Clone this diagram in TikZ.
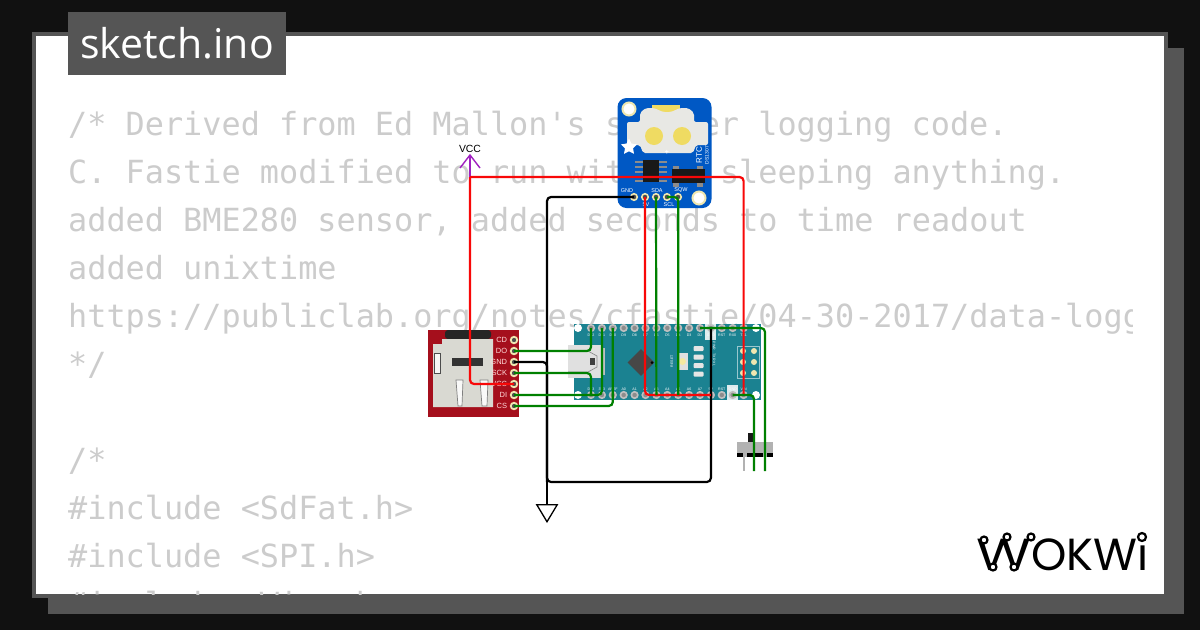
\documentclass[tikz,border=0pt]{standalone}
\usepackage{fontspec}
\setmainfont{Liberation Sans}
\setmonofont{DejaVu Sans Mono}
\newfontfamily\titlefont{Open Sans}
\newfontfamily\logofont{Poppins}
\usetikzlibrary{positioning,shapes.geometric}
\definecolor{pagebg}{HTML}{111111}
\definecolor{framegray}{HTML}{555555}
\definecolor{codegray}{HTML}{CCCCCC}
\definecolor{sdred}{HTML}{A50F1C}
\definecolor{sdgray}{HTML}{D9D9D2}
\definecolor{nanoteal}{HTML}{1B8291}
\definecolor{rtcblue}{HTML}{0058C4}
\definecolor{padcream}{HTML}{EFE7B0}
\definecolor{battyellow}{HTML}{EFDB62}
\definecolor{wiregreen}{HTML}{008000}
\definecolor{wirered}{HTML}{F80808}
\definecolor{vccpurple}{HTML}{A020C0}
\tikzset{
  codeline/.style={anchor=base west, inner sep=0pt, text=codegray, font=\ttfamily\fontsize{31.85}{32}\selectfont},
  wire/.style={line width=2.2pt, rounded corners=4pt},
  greenwire/.style={wire, draw=wiregreen},
  redwire/.style={wire, draw=wirered},
  blackwire/.style={wire, draw=black},
  sdpin/.style={circle, draw=padcream, fill=black!70, line width=1.8pt, minimum size=6.5pt, inner sep=0pt},
  sdlabel/.style={inner sep=0pt, text=red!15!white, font=\fontsize{7.5}{7.5}\selectfont},
  rtcpin/.style={circle, draw=padcream, fill=black!70, line width=1.6pt, minimum size=6.5pt, inner sep=0pt},
  rtclabel/.style={inner sep=0pt, text=white, font=\fontsize{5.5}{5.5}\selectfont},
  nanopin/.style={circle, draw=black!25, fill=black!45, line width=1.6pt, minimum size=6.5pt, inner sep=0pt},
  nanolabel/.style={inner sep=0pt, text=white, font=\fontsize{3.6}{3.6}\selectfont},
  nanoled/.style={fill=white!90!black, rounded corners=1pt},
  swleg/.style={line width=1.9pt, draw=black!30}
}
\begin{document}
\begin{tikzpicture}[x=1pt,y=-1pt]
  \useasboundingbox (0,0) rectangle (1200,630);
  % Draw frame
  \fill[pagebg] (0,0) rectangle (1200,630);
  \fill[framegray] (48,48) rectangle (1184,614);
  \draw[framegray, fill=white, line width=4pt] (34,34) rectangle (1166,596);
  % Draw code text
  \begin{scope}
    \clip (36,36) rectangle (1132,594);
    \node[codeline] (code1) at (68,135) {/* Derived from Ed Mallon's s};
    \node[codeline] (code1b) at (700.6,135) {er logging code.};
    \node[codeline] (code2) at (68,183) {C. Fastie modified to run with};
    \node[codeline] (code2b) at (719.8,183) {sleeping anything.};
    \node[codeline] (code3) at (68,231) {added BME280 sensor, added seconds to time readout};
    \node[codeline] (code4) at (68,279) {added unixtime};
    \node[codeline] (code5) at (68,327) {https://publiclab.org/notes/cfastie/04-30-2017/data-logger};
    \node[codeline] (code6) at (68,375) {*/};
    \node[codeline] (code7) at (68,471) {/*};
    \node[codeline] (code8) at (68,519) {\#include <SdFat.h>};
    \node[codeline] (code9) at (68,567) {\#include <SPI.h>};
    \node[codeline] (code10) at (68,615) {\#include <Wire.h>};
  \end{scope}
  % Draw title tab
  \fill[framegray] (68,12) rectangle (286,75);
  \node[inner sep=0pt, text=white, font=\titlefont\fontsize{41}{41}\selectfont] (title) at (177,43) {sketch.ino};
  % Draw logo
  \node[inner sep=0pt, anchor=base east, font=\logofont\fontsize{45}{45}\selectfont] (logo) at (1149,570) {\scalebox{1.25}[1]{W}OKWi};
  \foreach \xx/\yy [count=\k] in {984/540,1007/537,1031/537,993/567,1014/567}{
    \node[circle, draw=black, fill=white, line width=2.2pt, minimum size=7pt, inner sep=0pt] (logodot\k) at (\xx,\yy) {};
  }
  \node[circle, draw=black, fill=white, line width=2.2pt, minimum size=8pt, inner sep=0pt] (logodot6) at (1142,537) {};

  % Draw SD card
  \fill[sdred] (427.5,330) rectangle (519,417);
  \fill[black!85, rounded corners=3pt] (445,330) rectangle (491,339);
  \fill[sdgray] (433,344) -- (442,344) -- (442,339) -- (493,339) -- (493,407) -- (433,407) -- cycle;
  \fill[black!80] (452,358) rectangle (483,366);
  \draw[black!70, line width=1pt, fill=white!80!sdgray] (434,353) rectangle (440,373);
  \draw[black!50, line width=.7pt, fill=white!85!sdgray] (456,380) -- (463,380) -- (462,406) -- (458,406) -- cycle;
  \draw[black!50, line width=.7pt, fill=white!85!sdgray] (480,380) -- (488,380) -- (487,406) -- (482,406) -- cycle;
  \foreach \lab/\yy in {CD/340,DO/351,GND/362,SCK/373,VCC/384,DI/395,CS/406}{
    \node[sdpin] (sd\lab) at (514,\yy) {};
    \node[sdlabel, left=2.5pt of sd\lab] (sdtxt\lab) {\lab};
  }

  % Draw Nano
  \fill[nanoteal] (574,324) rectangle (761,400);
  \foreach \xx/\yy [count=\k] in {578/328,578/395,756/328,756/395}{
    \node[circle, fill=white, minimum size=8pt, inner sep=0pt] (nanohole\k) at (\xx,\yy) {};
  }
  \fill[white!85!nanoteal] (705,324) rectangle (716,340);
  \fill[white!85!nanoteal] (727,385) rectangle (738,400);
  \foreach \lab [count=\k from 0] in {D12,D11,D10,D9,D8,D7,D6,D5,D4,D3,D2,GND,RST,RX0,TX1}{
    \node[nanopin] (nt\k) at ({591+10.9*\k},328) {};
    \node[nanolabel] (nttxt\k) at ({591+10.9*\k},335.5) {\lab};
  }
  \foreach \lab [count=\k from 0] in {D13,3V3,AREF,A0,A1,A2,A3,A4,A5,A6,A7,5V,RST,GND,VIN}{
    \node[nanopin] (nb\k) at ({591+10.9*\k},395) {};
    \node[nanolabel] (nbtxt\k) at ({591+10.9*\k},389) {\lab};
  }
  % USB socket
  \fill[black!12] (568,345) rectangle (601,378);
  \fill[black!25] (601,348) rectangle (605,375);
  \draw[black!45, line width=.7pt] (568,351) -- (588,351) -- (597,356) -- (597,367) -- (588,372) -- (568,372);
  \fill[black!75] (590,358) rectangle (595,365);
  % Chip and reset
  \node[diamond, fill=black!72, minimum size=27pt, inner sep=0pt] (chip) at (641,362.5) {};
  \node[circle, fill=black, minimum size=3pt, inner sep=0pt] (chipdot) at (652,362.5) {};
  \fill[white!88!black] (677,353) rectangle (688,370);
  \node[circle, fill=battyellow!60!white, minimum size=7pt, inner sep=0pt] (resetbtn) at (682.5,361.5) {};
  \node[nanolabel, rotate=90] (resettxt) at (672,361) {RESET};
  \foreach \yy [count=\k] in {348.5,357,365.5,374}{
    \node[nanoled, minimum width=10pt, minimum height=5pt, inner sep=0pt] (led\k) at (698.5,\yy) {};
  }
  \node[nanolabel, rotate=-90] (ledtxt) at (714,360) {TX RX L};
  \node[nanolabel, rotate=-90] (pwrtxt) at (714,346) {PWR};
  % ICSP header
  \draw[white!55!nanoteal, line width=.8pt] (737,346) rectangle (759,378);
  \foreach \yy [count=\k] in {351,362,373}{
    \node[circle, fill=padcream, minimum size=6pt, inner sep=0pt] (icspa\k) at (743,\yy) {};
    \node[circle, fill=padcream, minimum size=6pt, inner sep=0pt] (icspb\k) at (754,\yy) {};
  }

  % Draw RTC
  \fill[rtcblue, rounded corners=9pt] (617.5,98) rectangle (711.5,208);
  \fill[battyellow] (652,105) rectangle (680,112);
  \fill[sdgray!60!white, rounded corners=2pt] (640,122) -- (640,113) to[out=45,in=180] (650,108) to[out=0,in=180] (667,112) to[out=0,in=180] (684,108) to[out=0,in=135] (694,113) -- (694,122) -- (708,122) -- (708,145) -- (696,145) -- (693,153) -- (643,153) -- (640,145) -- (627,145) -- (627,122) -- cycle;
  \node[circle, fill=battyellow, minimum size=18pt, inner sep=0pt] (battl) at (654,136) {};
  \node[circle, fill=battyellow, minimum size=18pt, inner sep=0pt] (battr) at (682,136) {};
  \node[star, star points=5, star point ratio=2, fill=white, minimum size=17pt, inner sep=0pt] (logostar) at (629,147) {};
  \node[inner sep=0pt, text=white, font=\bfseries\fontsize{7}{7}\selectfont] (plusmark) at (667,152) {+};
  \node[circle, draw=padcream, fill=white, line width=2pt, minimum size=13pt, inner sep=0pt] (rtcholea) at (629,109) {};
  \node[circle, draw=padcream, fill=white, line width=2pt, minimum size=13pt, inner sep=0pt] (rtcholeb) at (699,198) {};
  \foreach \yy in {162,167,172,177,181}{
    \fill[black!45] (635,\yy-1.2) rectangle (667,\yy+1.2);
  }
  \fill[black!90] (643,160) rectangle (659,182);
  \foreach \xx in {676,700}{
    \fill[black!45] (\xx-3,166) rectangle (\xx+3,187);
  }
  \fill[black!90] (672,169) rectangle (705,183);
  \node[inner sep=0pt, rotate=90, text=white, font=\fontsize{8}{8}\selectfont] (rtctxt) at (699,155) {RTC};
  \node[inner sep=0pt, rotate=90, text=white, font=\fontsize{5}{5}\selectfont] (dstxt) at (707,155) {DS1307};
  \foreach \lab/\xx in {GND/634,5V/645,SDA/656,SCL/667,SQW/678}{
    \node[rtcpin] (rtc\lab) at (\xx,197) {};
  }
  \node[rtclabel] (rtctxtgnd) at (627,191) {GND};
  \node[rtclabel] (rtctxtsda) at (657,191) {SDA};
  \node[rtclabel] (rtctxtsqw) at (681,190) {SQW};
  \node[rtclabel] (rtctxtfive) at (646,205) {5V};
  \node[rtclabel] (rtctxtscl) at (669,205) {SCL};

  % Draw slide switch
  \fill[black!90] (748,433) rectangle (753,442);
  \fill[black!30] (737,442) rectangle (772.5,453);
  \fill[black] (737,453) rectangle (772.5,456.5);
  \fill[black!30] (743,453) rectangle (747,456.5);
  \fill[black!30] (763,453) rectangle (767,456.5);
  \coordinate (swa) at (744,471);
  \coordinate (swb) at (754,471);
  \coordinate (swc) at (765,471);
  \draw[swleg] (744,456) -- (swa);

  % Draw VCC and ground symbols
  \node[inner sep=0pt, font=\fontsize{10.4}{10.4}\selectfont] (vcctxt) at (470,149) {VCC};
  \coordinate (vcctip) at (470,155);
  \coordinate (vccjoin) at (470,177);
  \draw[vccpurple, line width=1.4pt] (460,168) -- (vcctip) -- (480,168);
  \draw[vccpurple, line width=1.4pt] (vcctip) -- (vccjoin);
  \coordinate (gndjoin) at (547,482);
  \node[isosceles triangle, isosceles triangle apex angle=62, shape border rotate=-90, draw=black, fill=white, line width=1.3pt, minimum height=17pt, inner sep=0pt, anchor=apex] (gndsym) at (547,523) {};

  % Draw wires
  \draw[black, line width=1.3pt] (gndjoin) -- (gndsym.north);
  \draw[blackwire] (rtcGND.center) -| (gndjoin) -| (nt11.center);
  \draw[blackwire] (sdGND.center) -| (gndjoin);
  \draw[redwire] (vccjoin) |- (sdVCC.center);
  \draw[redwire] (vccjoin) -| (nb14.center);
  \draw[redwire] (rtc5V.center) |- (nb11.center);
  \draw[greenwire] (sdDO.center) -| (nt0.center);
  \draw[greenwire] (sdSCK.center) -| (nb0.center);
  \draw[greenwire] (sdDI.center) -| (nt1.center);
  \draw[greenwire] (sdCS.center) -| (nt2.center);
  \draw[greenwire] (rtcSDA.center) -- (nb6.center);
  \draw[greenwire] (rtcSCL.center) -| (nb8.center);
  \draw[greenwire] (nt10.center) -| (swc);
  \draw[greenwire] (nb13.center) -| (swb);
\end{tikzpicture}
\end{document}
